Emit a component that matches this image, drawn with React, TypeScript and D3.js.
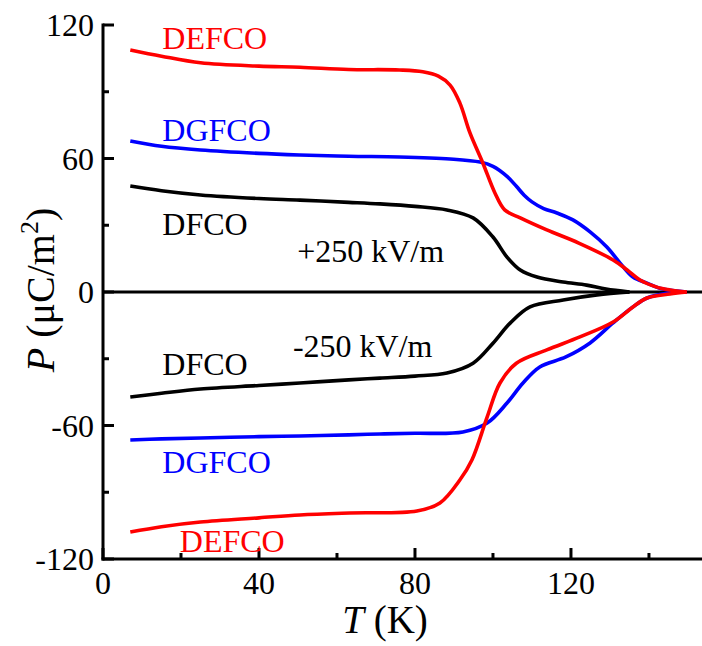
import React from "react";
import * as d3 from "d3";

const redPosT = [7, 15, 25, 40, 50.5, 63, 76, 82, 86, 89, 91.5, 94.1, 97.4, 100.5, 103, 107, 113.8, 122, 130.8, 134.4, 137.7, 142, 145.4, 149.7];
const redPosP = [108.8, 106, 103, 101.5, 101, 100, 99.8, 99, 97, 93, 85, 71.5, 58, 44.5, 36.9, 33.3, 27.9, 22, 14.4, 9.9, 5.4, 2.2, 0.9, 0];

const bluePosT = [7, 15, 25, 40, 50.5, 63, 76, 89, 96.7, 100, 103.6, 106, 108, 110, 113, 116.4, 120.5, 124.9, 129.2, 132.6, 135.9, 139.5, 143.6, 149.7];
const bluePosP = [67.9, 65.5, 63.8, 62.3, 61.6, 61, 60.7, 59.8, 58.4, 56.5, 52, 47.5, 43.5, 40.5, 37.5, 35.5, 32.4, 27, 20.2, 13, 6.7, 4, 1.3, 0];

const blackPosT = [7, 15, 25, 40, 50.5, 63, 71, 80, 88.2, 94.9, 100, 103.6, 107, 111.3, 118, 124, 129, 135];
const blackPosP = [47.6, 45.5, 43.6, 42, 41.3, 40.3, 39.6, 38.5, 36.9, 33.3, 24.7, 15.7, 9.9, 6.7, 4.5, 3.1, 1.3, 0];

const blackNegT = [7, 15, 25, 40, 50.5, 63, 71, 80, 88.2, 94.9, 100, 104.4, 109.5, 118, 126.7, 135];
const blackNegP = [-47.2, -45.5, -43.6, -42, -40.9, -39.5, -38.7, -37.8, -36.4, -32, -23, -14, -6.7, -3.6, -1.3, 0];

const blueNegT = [7, 15, 25, 40, 50.5, 63, 71, 80, 92.3, 98.5, 103.6, 107.7, 112, 118.7, 124.9, 130.8, 135.9, 139.5, 145.4, 149.7];
const blueNegP = [-66.5, -66, -65.6, -65, -64.7, -64.2, -63.8, -63.5, -62.9, -58.9, -49.9, -40.9, -33.7, -29.2, -22.9, -13.9, -6.7, -2.7, -0.4, 0];

const redNegT = [7, 15, 25, 40, 50.5, 63.3, 80.5, 86.4, 91.5, 94.6, 98.5, 101.8, 106, 113.8, 122.3, 130.8, 135.9, 139.5, 145.4, 149.7];
const redNegP = [-107.9, -105.5, -103.4, -101.5, -100.2, -99.3, -98.4, -94.8, -84.5, -75.5, -56.2, -40.9, -32, -26, -20.2, -13.5, -6.7, -2.7, -0.9, 0];

const xMajor = [0, 40, 80, 120];
const xMinor = [20, 60, 100, 140];
const yMajor = [-120, -60, 0, 60, 120];
const yMinor = [-90, -30, 30, 90];

const labels = [
  { text: "DEFCO", color: "#ff0000", t: 15.2, p: 109 },
  { text: "DGFCO", color: "#0000ff", t: 15.2, p: 68 },
  { text: "DFCO", color: "#000000", t: 15.2, p: 25.5 },
  { text: "+250 kV/m", color: "#000000", t: 49.8, p: 13.5 },
  { text: "DFCO", color: "#000000", t: 15.2, p: -37.5 },
  { text: "-250 kV/m", color: "#000000", t: 48.7, p: -29 },
  { text: "DGFCO", color: "#0000ff", t: 15.2, p: -81.5 },
  { text: "DEFCO", color: "#ff0000", t: 19.7, p: -117 },
];

const FONT = "Liberation Serif, Times New Roman, serif";

export default function App() {
  const W = 702, H = 646;
  const x = d3.scaleLinear().domain([0, 153.6]).range([103, 702]);
  const y = d3.scaleLinear().domain([-120, 120]).range([559, 25]);
  const line = d3
    .line<[number, number]>()
    .x((d) => x(d[0]))
    .y((d) => y(d[1]))
    .curve(d3.curveCatmullRom.alpha(0.5));
  const zip = (t: number[], p: number[]) => t.map((v, i) => [v, p[i]] as [number, number]);
  const series = [
    { t: blackPosT, p: blackPosP, c: "#000000" },
    { t: blackNegT, p: blackNegP, c: "#000000" },
    { t: bluePosT, p: bluePosP, c: "#0000ff" },
    { t: blueNegT, p: blueNegP, c: "#0000ff" },
    { t: redPosT, p: redPosP, c: "#ff0000" },
    { t: redNegT, p: redNegP, c: "#ff0000" },
  ];
  const x0 = x(0);
  const yb = y(-120);
  return (
    <svg width={W} height={H} style={{ position: "absolute", left: 0, top: 0, background: "#fff" }}>
      <line x1={x0} x2={W} y1={y(0)} y2={y(0)} stroke="#000" strokeWidth={3} />
      {series.map((s, i) => (
        <path key={i} d={line(zip(s.t, s.p)) || ""} fill="none" stroke={s.c} strokeWidth={3.6} />
      ))}
      <line x1={x0} x2={x0} y1={y(120) - 1.5} y2={yb + 1.5} stroke="#000" strokeWidth={3} />
      <line x1={x0 - 1.5} x2={W} y1={yb} y2={yb} stroke="#000" strokeWidth={3} />
      {yMajor.map((v) => (
        <g key={"ym" + v}>
          <line x1={x0} x2={x0 + 11} y1={y(v)} y2={y(v)} stroke="#000" strokeWidth={3} />
          <text x={x0 - 9} y={y(v)} dy="0.35em" textAnchor="end" fontSize={32} fontFamily={FONT}>{v}</text>
        </g>
      ))}
      {yMinor.map((v) => (
        <line key={"yn" + v} x1={x0} x2={x0 + 6} y1={y(v)} y2={y(v)} stroke="#000" strokeWidth={3} />
      ))}
      {xMajor.map((v) => (
        <g key={"xm" + v}>
          <line x1={x(v)} x2={x(v)} y1={yb} y2={yb - 11} stroke="#000" strokeWidth={3} />
          <text x={x(v)} y={yb + 35} textAnchor="middle" fontSize={32} fontFamily={FONT}>{v}</text>
        </g>
      ))}
      {xMinor.map((v) => (
        <line key={"xn" + v} x1={x(v)} x2={x(v)} y1={yb} y2={yb - 6} stroke="#000" strokeWidth={3} />
      ))}
      {labels.map((l, i) => (
        <text key={"l" + i} x={x(l.t)} y={y(l.p)} fill={l.color} fontSize={32} fontFamily={FONT}>{l.text}</text>
      ))}
      <text x={385} y={633} textAnchor="middle" fontSize={39} fontFamily={FONT}>
        <tspan fontStyle="italic">T</tspan> (K)
      </text>
      <text transform="translate(54,290) rotate(-90)" textAnchor="middle" fontSize={40} fontFamily={FONT}>
        <tspan fontStyle="italic">P</tspan> (μC/m<tspan fontSize={26} dy={-16}>2</tspan><tspan dy={16}>)</tspan>
      </text>
    </svg>
  );
}
